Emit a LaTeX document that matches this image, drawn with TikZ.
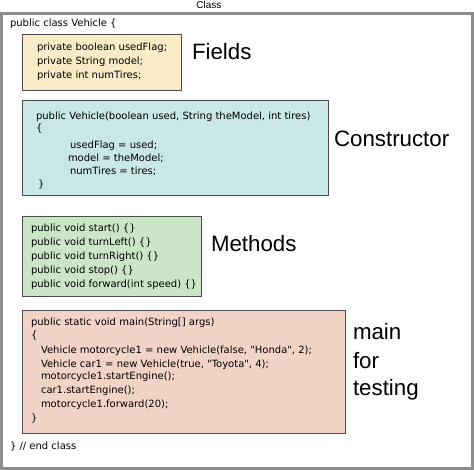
\documentclass[tikz,border=0pt]{standalone}
\usepackage{fontspec}
\setmainfont{Liberation Sans}
\newfontfamily\codefont{DejaVu Sans}
\begin{document}
\begin{tikzpicture}[x=1pt,y=-1pt,
  every node/.style={inner sep=0pt, outer sep=0pt},
  codebox/.style={draw=black!70, line width=0.9pt, anchor=north west, minimum width=#1},
  code/.style={anchor=base west, font=\codefont\fontsize{10}{12}\selectfont},
  big/.style={anchor=base west, font=\fontsize{22.3}{24}\selectfont},
  small/.style={font=\fontsize{10}{12}\selectfont}]
\useasboundingbox (0,0) rectangle (474,470);
\definecolor{fieldsc}{HTML}{F8EBC6}
\definecolor{consc}{HTML}{C9E7E7}
\definecolor{methc}{HTML}{CBE6C7}
\definecolor{mainc}{HTML}{F2D4C7}
% outer class frame
\draw[line width=2.6pt, draw=black!45] (1.3,13.5) rectangle (472.7,468.5);
\node[small, anchor=base] (classlbl) at (209,9) {Class};
\node[code] (head) at (10,27) {public class Vehicle \{};
\node[code] (tail) at (10,449) {\} // end class};
% boxes
\node[codebox=159, minimum height=56, fill=fieldsc] (fbox) at (22,34) {};
\node[codebox=306, minimum height=95, fill=consc] (cbox) at (22,100) {};
\node[codebox=179, minimum height=80, fill=methc] (mbox) at (22,216) {};
\node[codebox=323, minimum height=123, fill=mainc] (pbox) at (22,310) {};
% fields
\node[code] (f1) at (37,51) {private boolean usedFlag;};
\node[code] (f2) at (37,65) {private String model;};
\node[code] (f3) at (37,79) {private int numTires;};
% constructor
\node[code] (c1) at (36,120) {public Vehicle(boolean used, String theModel, int tires)};
\node[code] (c2) at (36,132) {\{};
\node[code] (c3) at (70,149) {usedFlag = used;};
\node[code] (c4) at (68,162) {model = theModel;};
\node[code] (c5) at (70,175) {numTires = tires;};
\node[code] (c6) at (38,188) {\}};
% methods
\node[code] (m1) at (31,232) {public void start() \{\}};
\node[code] (m2) at (31,246) {public void turnLeft() \{\}};
\node[code] (m3) at (31,260) {public void turnRight() \{\}};
\node[code] (m4) at (31,274) {public void stop() \{\}};
\node[code] (m5) at (31,288) {public void forward(int speed) \{\}};
% main
\node[code] (p1) at (31,326) {public static void main(String[] args)};
\node[code] (p2) at (31,338) {\{};
\node[code] (p3) at (41,353) {Vehicle motorcycle1 = new Vehicle(false, "Honda", 2);};
\node[code] (p4) at (41,367) {Vehicle car1 = new Vehicle(true, "Toyota", 4);};
\node[code] (p5) at (41,380) {motorcycle1.startEngine();};
\node[code] (p6) at (41,393) {car1.startEngine();};
\node[code] (p7) at (41,407) {motorcycle1.forward(20);};
\node[code] (p8) at (31,421) {\}};
% labels
\node[big] (lf) at (192,60) {Fields};
\node[big] (lc) at (334,147) {Constructor};
\node[big] (lm) at (211,252) {Methods};
\node[big] (lp1) at (353,340) {main};
\node[big] (lp2) at (353,368) {for};
\node[big] (lp3) at (353,395) {testing};
\end{tikzpicture}
\end{document}
